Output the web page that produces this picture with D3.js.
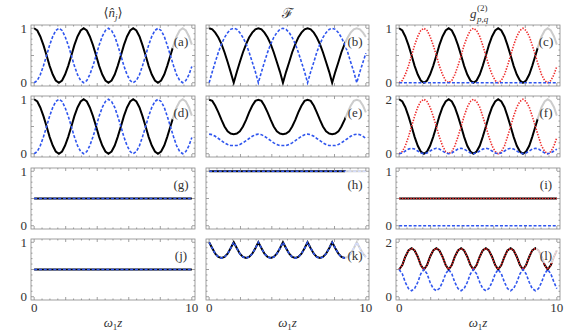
<!DOCTYPE html>
<html>
<head>
<meta charset="utf-8">
<script src="https://cdn.jsdelivr.net/npm/d3@7"></script>
<style>
  body { margin: 0; background: #fff; }
  text { font-family: 'Liberation Serif', 'DejaVu Serif', serif; fill: #333; }
</style>
</head>
<body>
<div id="chart"></div>
<script>
// sample positions along omega_1 z
const xs = [0, 0.2, 0.39, 0.59, 0.79, 0.98, 1.18, 1.37, 1.57, 1.77, 1.96, 2.16, 2.36, 2.55, 2.75, 2.95,
  3.14, 3.34, 3.53, 3.73, 3.93, 4.12, 4.32, 4.52, 4.71, 4.91, 5.11, 5.3, 5.5, 5.69, 5.89, 6.09,
  6.28, 6.48, 6.68, 6.87, 7.07, 7.26, 7.46, 7.66, 7.85, 8.05, 8.25, 8.44, 8.64, 8.84, 9.03, 9.23,
  9.42, 9.62, 9.82, 10];
const xFlat = [0, 10];

// <n_j> panels (a), (d) and g2 panel (c)
const nBlack = [1, .96, .85, .69, .5, .31, .15, .04, 0, .04, .15, .31, .5, .69, .85, .96,
  1, .96, .85, .69, .5, .31, .15, .04, 0, .04, .15, .31, .5, .69, .85, .96,
  1, .96, .85, .69, .5, .31, .15, .04, 0, .04, .15, .31, .5, .69, .85, .96,
  1, .96, .85, .70];
const nBlue = [0, .04, .15, .31, .5, .69, .85, .96, 1, .96, .85, .69, .5, .31, .15, .04,
  0, .04, .15, .31, .5, .69, .85, .96, 1, .96, .85, .69, .5, .31, .15, .04,
  0, .04, .15, .31, .5, .69, .85, .96, 1, .96, .85, .69, .5, .31, .15, .04,
  0, .04, .15, .30];

// fidelity panel (b)
const bBlack = [1, .98, .92, .83, .71, .56, .38, .2, 0, .2, .38, .56, .71, .83, .92, .98,
  1, .98, .92, .83, .71, .56, .38, .2, 0, .2, .38, .56, .71, .83, .92, .98,
  1, .98, .92, .83, .71, .56, .38, .2, 0, .2, .38, .56, .71, .83, .92, .98,
  1, .98, .92, .84];
const bBlue = [0, .2, .38, .56, .71, .83, .92, .98, 1, .98, .92, .83, .71, .56, .38, .2,
  0, .2, .38, .56, .71, .83, .92, .98, 1, .98, .92, .83, .71, .56, .38, .2,
  0, .2, .38, .56, .71, .83, .92, .98, 1, .98, .92, .83, .71, .56, .38, .2,
  0, .2, .38, .54];

// fidelity panel (e)
const eBlack = [.99, .97, .88, .76, .62, .5, .41, .37, .36, .37, .41, .5, .62, .76, .88, .97,
  .99, .97, .88, .76, .62, .5, .41, .37, .36, .37, .41, .5, .62, .76, .88, .97,
  .99, .97, .88, .76, .62, .5, .41, .37, .36, .37, .41, .5, .62, .76, .88, .97,
  .99, .97, .88, .76];
const eBlue = [.36, .35, .32, .28, .24, .2, .17, .15, .15, .15, .17, .2, .24, .28, .32, .35,
  .36, .35, .32, .28, .24, .2, .17, .15, .15, .15, .17, .2, .24, .28, .32, .35,
  .36, .35, .32, .28, .24, .2, .17, .15, .15, .15, .17, .2, .24, .28, .32, .35,
  .36, .35, .32, .28];

// g2 panel (f)
const fBlack = [2, 1.92, 1.71, 1.38, 1, .62, .29, .08, 0, .08, .29, .62, 1, 1.38, 1.71, 1.92,
  2, 1.92, 1.71, 1.38, 1, .62, .29, .08, 0, .08, .29, .62, 1, 1.38, 1.71, 1.92,
  2, 1.92, 1.71, 1.38, 1, .62, .29, .08, 0, .08, .29, .62, 1, 1.38, 1.71, 1.92,
  2, 1.92, 1.71, 1.40];
const fRed = [0, .08, .29, .62, 1, 1.38, 1.71, 1.92, 2, 1.92, 1.71, 1.38, 1, .62, .29, .08,
  0, .08, .29, .62, 1, 1.38, 1.71, 1.92, 2, 1.92, 1.71, 1.38, 1, .62, .29, .08,
  0, .08, .29, .62, 1, 1.38, 1.71, 1.92, 2, 1.92, 1.71, 1.38, 1, .62, .29, .08,
  0, .08, .29, .60];
const fBlue = [0, .03, .1, .17, .2, .17, .1, .03, 0, .03, .1, .17, .2, .17, .1, .03,
  0, .03, .1, .17, .2, .17, .1, .03, 0, .03, .1, .17, .2, .17, .1, .03,
  0, .03, .1, .17, .2, .17, .1, .03, 0, .03, .1, .17, .2, .17, .1, .03,
  0, .03, .1, .17];

// fidelity panel (k)
const kCurve = [1, .89, .79, .73, .71, .73, .79, .89, 1, .89, .79, .73, .71, .73, .79, .89,
  1, .89, .79, .73, .71, .73, .79, .89, 1, .89, .79, .73, .71, .73, .79, .89,
  1, .89, .79, .73, .71, .73, .79, .89, 1, .89, .79, .73, .71, .73, .79, .89,
  1, .89, .79, .73];

// g2 panel (l)
const lUp = [1, 1.16, 1.47, 1.7, 1.78, 1.7, 1.47, 1.16, 1, 1.16, 1.47, 1.7, 1.78, 1.7, 1.47, 1.16,
  1, 1.16, 1.47, 1.7, 1.78, 1.7, 1.47, 1.16, 1, 1.16, 1.47, 1.7, 1.78, 1.7, 1.47, 1.16,
  1, 1.16, 1.47, 1.7, 1.78, 1.7, 1.47, 1.16, 1, 1.16, 1.47, 1.7, 1.78, 1.7, 1.47, 1.16,
  1, 1.16, 1.47, 1.7];
const lDown = [1, .84, .53, .3, .22, .3, .53, .84, 1, .84, .53, .3, .22, .3, .53, .84,
  1, .84, .53, .3, .22, .3, .53, .84, 1, .84, .53, .3, .22, .3, .53, .84,
  1, .84, .53, .3, .22, .3, .53, .84, 1, .84, .53, .3, .22, .3, .53, .84,
  1, .84, .53, .3];

// flat panels (g)-(j)
const half = [0.5, 0.5];
const one = [1, 1];
const zero = [0, 0];

const xTickLabels = [0, 10];

// Layout
const W = 575, H = 335;
const cols = [{ x0: 31, x1: 195 }, { x0: 206, x1: 369 }, { x0: 396, x1: 560 }];
const rows = [{ y0: 25, y1: 86 }, { y0: 96, y1: 157 }, { y0: 168, y1: 229 }, { y0: 239, y1: 300 }];

const styles = {
  black: { stroke: '#000', width: 2, dash: null },
  red: { stroke: '#ee2b2b', width: 1.6, dash: '1.4,1.4' },
  blue: { stroke: '#2f55ee', width: 1.6, dash: '3,1.8' }
};

const panels = [
  { id: 'a', r: 0, c: 0, ymax: 1, lines: [[xs, nBlack, 'black'], [xs, nBlue, 'blue']] },
  { id: 'b', r: 0, c: 1, ymax: 1, lines: [[xs, bBlack, 'black'], [xs, bBlue, 'blue']] },
  { id: 'c', r: 0, c: 2, ymax: 1, lines: [[xs, nBlack, 'black'], [xs, nBlue, 'red'], [xFlat, zero, 'blue']] },
  { id: 'd', r: 1, c: 0, ymax: 1, lines: [[xs, nBlack, 'black'], [xs, nBlue, 'blue']] },
  { id: 'e', r: 1, c: 1, ymax: 1, lines: [[xs, eBlack, 'black'], [xs, eBlue, 'blue']] },
  { id: 'f', r: 1, c: 2, ymax: 2, lines: [[xs, fBlack, 'black'], [xs, fRed, 'red'], [xs, fBlue, 'blue']] },
  { id: 'g', r: 2, c: 0, ymax: 1, lines: [[xFlat, half, 'black'], [xFlat, half, 'blue']] },
  { id: 'h', r: 2, c: 1, ymax: 1, lines: [[xFlat, one, 'black'], [xFlat, one, 'blue']] },
  { id: 'i', r: 2, c: 2, ymax: 1, lines: [[xFlat, half, 'black'], [xFlat, half, 'red'], [xFlat, zero, 'blue']] },
  { id: 'j', r: 3, c: 0, ymax: 1, lines: [[xFlat, half, 'black'], [xFlat, half, 'blue']] },
  { id: 'k', r: 3, c: 1, ymax: 1, lines: [[xs, kCurve, 'black'], [xs, kCurve, 'blue']] },
  { id: 'l', r: 3, c: 2, ymax: 2, lines: [[xs, lUp, 'black'], [xs, lUp, 'red'], [xs, lDown, 'blue']] }
];

const svg = d3.select('#chart').append('svg')
  .attr('width', W).attr('height', H);

panels.forEach(p => {
  const col = cols[p.c], row = rows[p.r];
  const x = d3.scaleLinear().domain([-0.2, 10.2]).range([col.x0, col.x1]);
  const pad = 0.06 * p.ymax;
  const y = d3.scaleLinear().domain([-pad, p.ymax + pad]).range([row.y1, row.y0]);
  const g = svg.append('g');

  // curves
  const line = d3.line().x(d => x(d[0])).y(d => y(d[1]));
  p.lines.forEach(([xv, yv, s]) => {
    const st = styles[s];
    g.append('path')
      .datum(xv.map((v, i) => [v, yv[i]]))
      .attr('d', line)
      .attr('fill', 'none')
      .attr('stroke', st.stroke)
      .attr('stroke-width', st.width)
      .attr('stroke-dasharray', st.dash);
  });

  // panel label over a translucent box
  g.append('rect')
    .attr('x', col.x1 - 24).attr('y', row.y0 + 1)
    .attr('width', 22).attr('height', 23)
    .attr('rx', 4)
    .attr('fill', '#fff').attr('fill-opacity', 0.8);
  g.append('text')
    .attr('x', col.x1 - 14).attr('y', row.y0 + 21)
    .attr('text-anchor', 'middle')
    .attr('font-size', 13)
    .text(`(${p.id})`);

  // frame with inward ticks
  const fr = svg.append('g').attr('stroke', '#888').attr('stroke-width', 0.8);
  fr.append('rect')
    .attr('x', col.x0).attr('y', row.y0)
    .attr('width', col.x1 - col.x0).attr('height', row.y1 - row.y0)
    .attr('fill', 'none');
  d3.range(0, 10.01, 0.5).forEach(t => {
    const len = t % 2 === 0 ? 3 : 1.5;
    fr.append('line').attr('x1', x(t)).attr('x2', x(t)).attr('y1', row.y1).attr('y2', row.y1 - len);
    fr.append('line').attr('x1', x(t)).attr('x2', x(t)).attr('y1', row.y0).attr('y2', row.y0 + len);
  });
  const ystep = p.ymax / 10;
  d3.range(0, 11).forEach(i => {
    const len = i % 5 === 0 ? 3 : 1.5;
    const yy = y(i * ystep);
    fr.append('line').attr('x1', col.x0).attr('x2', col.x0 + len).attr('y1', yy).attr('y2', yy);
    fr.append('line').attr('x1', col.x1).attr('x2', col.x1 - len).attr('y1', yy).attr('y2', yy);
  });

  // y tick labels on outer columns
  if (p.c !== 1) {
    [0, p.ymax].forEach(v => {
      svg.append('text')
        .attr('x', col.x0 - 4).attr('y', y(v) + 4.5)
        .attr('text-anchor', 'end')
        .attr('font-size', 13)
        .text(v);
    });
  }
  // x tick labels on bottom row
  if (p.r === 3) {
    xTickLabels.forEach(v => {
      svg.append('text')
        .attr('x', x(v)).attr('y', row.y1 + 12)
        .attr('text-anchor', 'middle')
        .attr('font-size', 13)
        .text(v);
    });
  }
});

// column titles
const cx = cols.map(c => (c.x0 + c.x1) / 2);
const t1 = svg.append('text').attr('x', cx[0]).attr('y', 17)
  .attr('text-anchor', 'middle').attr('font-size', 13);
t1.append('tspan').text('\u27E8');
t1.append('tspan').attr('font-style', 'italic').text('n\u0302');
t1.append('tspan').attr('font-style', 'italic').attr('font-size', 9).attr('dy', 3).text('j');
t1.append('tspan').attr('dy', -3).text('\u27E9');

svg.append('text').attr('x', cx[1]).attr('y', 18)
  .attr('text-anchor', 'middle').attr('font-size', 14)
  .text('\u2131');

svg.append('text').attr('x', cx[2] - 8).attr('y', 18)
  .attr('font-size', 13).attr('font-style', 'italic').text('g');
svg.append('text').attr('x', cx[2] - 1).attr('y', 11)
  .attr('font-size', 9).text('(2)');
svg.append('text').attr('x', cx[2] - 1).attr('y', 22)
  .attr('font-size', 9).attr('font-style', 'italic').text('p,q');

// x axis labels
cx.forEach(c => {
  const t = svg.append('text').attr('x', c).attr('y', 327)
    .attr('text-anchor', 'middle').attr('font-size', 13);
  t.append('tspan').attr('font-style', 'italic').text('\u03C9');
  t.append('tspan').attr('font-size', 9).attr('dy', 3).text('1');
  t.append('tspan').attr('font-style', 'italic').attr('dy', -3).text('z');
});
</script>
</body>
</html>
